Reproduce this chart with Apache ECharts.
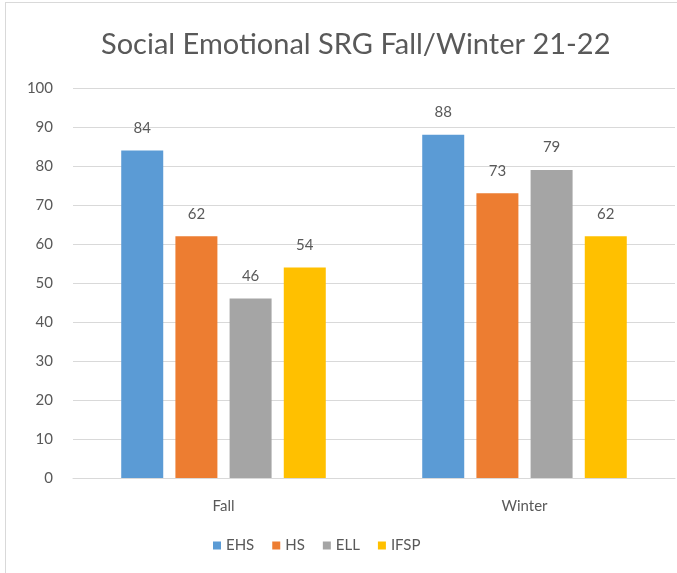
<html lang="en">
  <head>
    <meta charset="UTF-8" />
    <title>Social Emotional SRG</title>
    <style>
      body { margin: 0; background: #fff; }
      #main { width: 677px; height: 573px; }
      #frame { position: absolute; left: 5px; top: 2px; width: 700px; height: 600px;
               border-left: 1px solid #d9d9d9; border-top: 1px solid #d9d9d9; pointer-events: none; }
    </style>
  </head>
  <body>
    <div id="main"></div>
    <div id="frame"></div>

    <script src="https://cdn.jsdelivr.net/npm/echarts@6/dist/echarts.min.js"></script>
    <script>
      const categories = ['Fall', 'Winter']
      const seriesNames = ['EHS', 'HS', 'ELL', 'IFSP']
      const ehs = [84, 88]
      const hs = [62, 73]
      const ell = [46, 79]
      const ifsp = [54, 62]
      const colors = ['#5b9bd5', '#ed7d31', '#a5a5a5', '#ffc000']

      const values = [ehs, hs, ell, ifsp]
      const font = 'Lato, "Open Sans", sans-serif'

      let mCharts = echarts.init(document.querySelector('#main'))
      let option = {
        animation: false,
        color: colors,
        title: {
          text: 'Social Emotional SRG Fall/Winter 21-22',
          left: 96,
          top: 25,
          textStyle: { fontFamily: font, fontSize: 29, fontWeight: 'normal', color: '#595959' }
        },
        legend: {
          bottom: 15,
          left: 208,
          itemWidth: 8,
          itemHeight: 8,
          itemGap: 18,
          icon: 'rect',
          textStyle: { fontFamily: font, fontSize: 15, color: '#595959' },
          data: seriesNames
        },
        grid: { left: 73, right: 2, top: 88, bottom: 95 },
        xAxis: {
          type: 'category',
          data: categories,
          axisLine: { lineStyle: { color: '#d9d9d9' } },
          axisTick: { show: false },
          axisLabel: { fontFamily: font, fontSize: 15, color: '#595959', margin: 21 }
        },
        yAxis: {
          type: 'value',
          min: 0,
          max: 100,
          interval: 10,
          axisLine: { show: false },
          axisTick: { show: false },
          splitLine: { lineStyle: { color: '#d9d9d9' } },
          axisLabel: { fontFamily: font, fontSize: 15, color: '#595959', margin: 20 }
        },
        series: seriesNames.map((name, i) => ({
          name: name,
          type: 'bar',
          data: values[i],
          barWidth: 42,
          barGap: '29%',
          label: {
            show: true,
            position: 'top',
            distance: 15,
            fontFamily: font,
            fontSize: 15,
            color: '#595959'
          }
        }))
      }
      mCharts.setOption(option)
    </script>
  </body>
</html>
